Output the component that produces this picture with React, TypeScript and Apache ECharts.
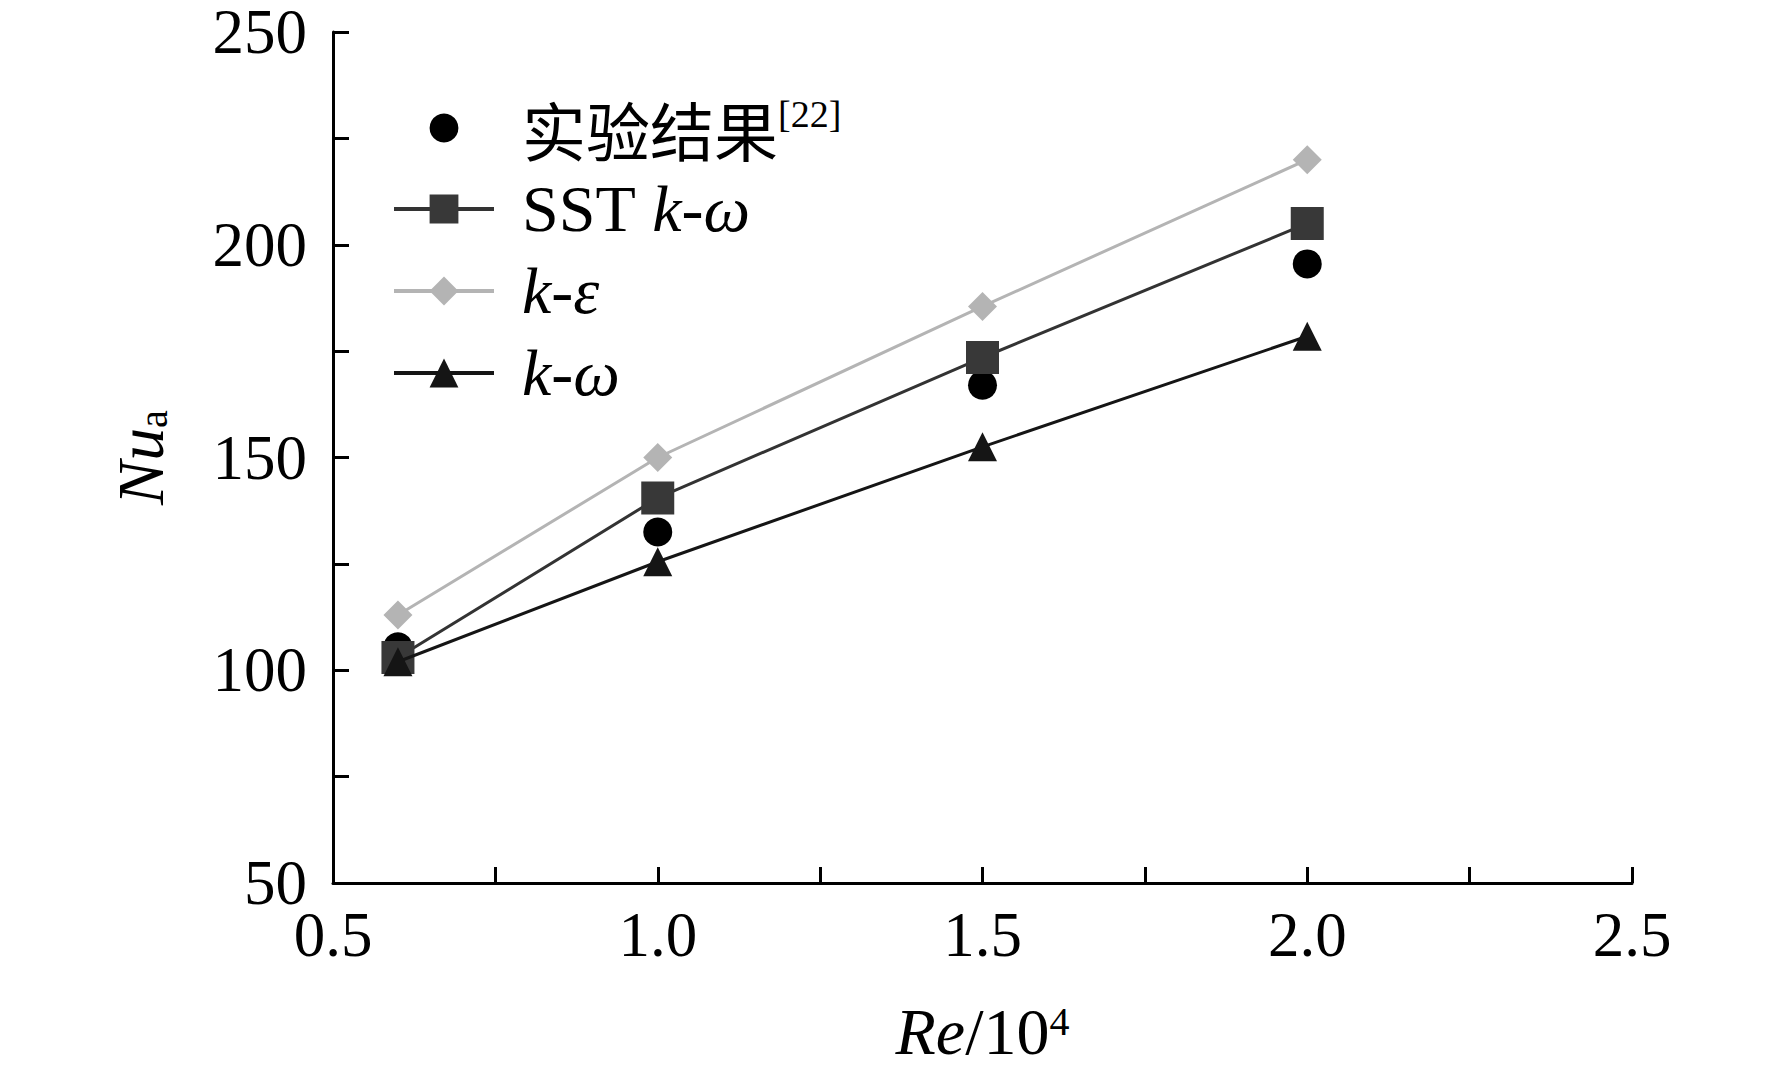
import React, { useEffect, useRef } from "react";
import * as echarts from "echarts";

const reX = [0.6, 1.0, 1.5, 2.0];
const expNu = [105.5, 132.5, 167, 195.5];
const sstNu = [103, 140.5, 173.5, 205];
const keNu = [113, 150, 185.5, 220];
const kwNu = [102, 125.5, 152.5, 178.5];

const xTickLabels = ["0.5", "1.0", "1.5", "2.0", "2.5"];
const yTickLabels = ["50", "100", "150", "200", "250"];

const seriesNames = ["实验结果", "SST k-ω", "k-ε", "k-ω"];

const SERIF = "'Liberation Serif', 'Times New Roman', 'Noto Sans CJK SC', serif";

function pairs(xs: number[], ys: number[]) {
  return xs.map((x, i) => [x, ys[i]]);
}

export default function App() {
  const ref = useRef<HTMLDivElement>(null);
  useEffect(() => {
    if (!ref.current) return;
    const chart = echarts.init(ref.current, null, { renderer: "svg" });
    const axisLine = { show: true, lineStyle: { color: "#000", width: 3 } };
    const axisTick = { show: true, inside: true, length: 16, lineStyle: { color: "#000", width: 3 } };
    chart.setOption({
      animation: false,
      backgroundColor: "#fff",
      grid: { left: 333, right: 140, top: 32, bottom: 195, containLabel: false },
      xAxis: {
        type: "value",
        min: 0.5,
        max: 2.5,
        interval: 0.25,
        axisLine,
        axisTick,
        splitLine: { show: false },
        axisLabel: {
          margin: 20,
          fontFamily: SERIF,
          fontSize: 63,
          color: "#000",
          formatter: (v: number) => {
            const idx = xTickLabels.findIndex((t) => Math.abs(parseFloat(t) - v) < 1e-6);
            return idx >= 0 ? xTickLabels[idx] : "";
          },
        },
        name: "{i|Re}{n|/10}{sup|4}",
        nameLocation: "middle",
        nameGap: 115,
        nameTextStyle: {
          color: "#000",
          fontFamily: SERIF,
          fontSize: 66,
          rich: {
            i: { fontFamily: SERIF, fontSize: 66, fontStyle: "italic", color: "#000" },
            n: { fontFamily: SERIF, fontSize: 66, color: "#000" },
            sup: { fontFamily: SERIF, fontSize: 40, color: "#000", verticalAlign: "top", padding: [4, 0, 0, 0] },
          },
        },
      },
      yAxis: {
        type: "value",
        min: 50,
        max: 250,
        interval: 25,
        axisLine,
        axisTick,
        splitLine: { show: false },
        axisLabel: {
          margin: 26,
          fontFamily: SERIF,
          fontSize: 63,
          lineHeight: 48,
          color: "#000",
          formatter: (v: number) => {
            const idx = yTickLabels.findIndex((t) => Math.abs(parseFloat(t) - v) < 1e-6);
            return idx >= 0 ? yTickLabels[idx] : "";
          },
        },
        name: "{i|Nu}{sub|a}",
        nameLocation: "middle",
        nameRotate: 90,
        nameGap: 160,
        nameTextStyle: {
          color: "#000",
          fontFamily: SERIF,
          fontSize: 66,
          rich: {
            i: { fontFamily: SERIF, fontSize: 66, fontStyle: "italic", color: "#000" },
            sub: { fontFamily: SERIF, fontSize: 40, color: "#000", verticalAlign: "bottom" },
          },
        },
      },
      legend: {
        orient: "vertical",
        left: 392,
        top: 95,
        padding: 0,
        itemWidth: 100,
        itemHeight: 36,
        itemGap: 16,
        lineStyle: { width: 4 },
        data: seriesNames,
        formatter: (name: string) => {
          if (name === seriesNames[0]) return "{cn|实验结果}{sup|[22]}";
          if (name === seriesNames[1]) return "{r|SST }{i|k-ω}";
          return "{i|" + name + "}";
        },
        textStyle: {
          color: "#000",
          fontFamily: SERIF,
          fontSize: 66,
          padding: [0, 0, 0, 23],
          rich: {
            cn: { fontFamily: "'Noto Sans CJK SC', sans-serif", fontSize: 64, color: "#000", lineHeight: 66 },
            sup: { fontFamily: SERIF, fontSize: 38, color: "#000", verticalAlign: "top", lineHeight: 66 },
            r: { fontFamily: SERIF, fontSize: 66, color: "#000", lineHeight: 66 },
            i: { fontFamily: SERIF, fontSize: 66, fontStyle: "italic", color: "#000", lineHeight: 66 },
          },
        },
      },
      series: [
        {
          name: seriesNames[0],
          type: "line",
          data: pairs(reX, expNu),
          symbol: "circle",
          symbolSize: 29,
          itemStyle: { color: "#000" },
          lineStyle: { width: 0, opacity: 0 },
          z: 2,
        },
        {
          name: seriesNames[1],
          type: "line",
          data: pairs(reX, sstNu),
          symbol: "rect",
          symbolSize: 33,
          itemStyle: { color: "#383838" },
          lineStyle: { color: "#333", width: 3 },
          z: 3,
        },
        {
          name: seriesNames[2],
          type: "line",
          data: pairs(reX, keNu),
          symbol: "diamond",
          symbolSize: 29,
          itemStyle: { color: "#b4b4b4" },
          lineStyle: { color: "#b4b4b4", width: 3 },
          z: 3,
        },
        {
          name: seriesNames[3],
          type: "line",
          data: pairs(reX, kwNu),
          symbol: "triangle",
          symbolSize: 29,
          itemStyle: { color: "#151515" },
          lineStyle: { color: "#151515", width: 3 },
          z: 4,
        },
      ],
    });
    return () => chart.dispose();
  }, []);
  return (
    <div
      ref={ref}
      style={{ position: "absolute", left: 0, top: 0, width: 1772, height: 1078, background: "#fff" }}
    />
  );
}
